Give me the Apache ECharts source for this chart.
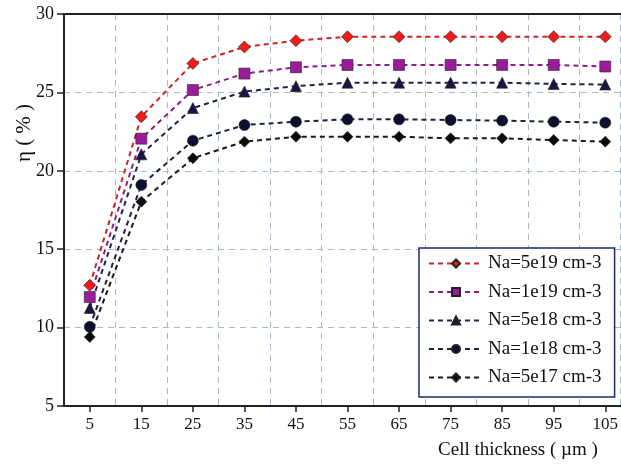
<!DOCTYPE html>
<html>
<head>
<meta charset="utf-8">
<script src="https://cdn.jsdelivr.net/npm/echarts@6/dist/echarts.min.js"></script>
<style>
  html, body { margin: 0; padding: 0; background: #fff; }
  #main { width: 621px; height: 465px; }
</style>
</head>
<body>
<div id="main"></div>
<script>
  var thickness = [5, 15, 25, 35, 45, 55, 65, 75, 85, 95, 105];
  var na5e19 = [12.7, 23.45, 26.85, 27.9, 28.3, 28.55, 28.55, 28.55, 28.55, 28.55, 28.55];
  var na1e19 = [11.95, 22.05, 25.15, 26.2, 26.6, 26.75, 26.75, 26.75, 26.75, 26.75, 26.65];
  var na5e18 = [11.25, 21.05, 24.0, 25.05, 25.4, 25.62, 25.62, 25.62, 25.62, 25.54, 25.5];
  var na1e18 = [10.05, 19.1, 21.92, 22.92, 23.13, 23.28, 23.28, 23.24, 23.2, 23.13, 23.07];
  var na5e17 = [9.4, 18.03, 20.8, 21.86, 22.17, 22.17, 22.17, 22.07, 22.07, 21.96, 21.86];
  var yTicks = [5, 10, 15, 20, 25, 30];

  function pairs(vals) {
    return thickness.map(function (x, i) { return [x, vals[i]]; });
  }

  var serif = 'Liberation Serif';

  function line(name, vals, color, lineColor, symbol, size) {
    return {
      name: name,
      type: 'line',
      xAxisIndex: 1,
      data: pairs(vals),
      symbol: symbol,
      symbolSize: size,
      itemStyle: { color: color, borderColor: '#222', borderWidth: 0.6 },
      lineStyle: { color: lineColor, width: 2, type: [5, 4] }
    };
  }

  var chart = echarts.init(document.getElementById('main'));

  var option = {
    animation: false,
    grid: { left: 64, top: 14, right: 0, bottom: 59 },
    xAxis: [
      {
        type: 'value', min: 0, max: 108, interval: 10, position: 'bottom',
        axisLine: { show: false },
        axisTick: { show: false },
        axisLabel: { show: false },
        splitLine: { show: true, lineStyle: { color: '#a9b9c9', type: [6, 5], width: 1 } }
      },
      {
        type: 'value', min: 0, max: 108, position: 'bottom',
        axisLine: { show: true, onZero: false, lineStyle: { color: '#222', width: 2 } },
        axisTick: { show: true, customValues: thickness, length: 6, lineStyle: { color: '#222', width: 1.5 } },
        axisLabel: { customValues: thickness, fontFamily: serif, fontSize: 17, color: '#111', margin: 10 },
        splitLine: { show: false }
      },
      {
        type: 'value', min: 0, max: 108, position: 'top',
        axisLine: { show: true, onZero: false, lineStyle: { color: '#222', width: 2 } },
        axisTick: { show: false },
        axisLabel: { show: false },
        splitLine: { show: false }
      }
    ],
    yAxis: {
      type: 'value', min: 5, max: 30, interval: 5,
      axisLine: { show: true, lineStyle: { color: '#222', width: 2 } },
      axisTick: { show: true, length: 7, lineStyle: { color: '#222', width: 1.5 } },
      axisLabel: {
        fontFamily: serif, fontSize: 18, color: '#111', margin: 10,
        formatter: function (v) { return yTicks.indexOf(v) >= 0 ? String(v) : ''; }
      },
      splitLine: { show: true, lineStyle: { color: '#a9b9c9', type: [6, 5], width: 1 } }
    },
    legend: {
      orient: 'vertical',
      left: 419,
      top: 248,
      itemWidth: 54,
      itemHeight: 10,
      itemGap: 9.5,
      padding: [6, 13, 10, 9],
      backgroundColor: '#fff',
      borderColor: '#1f2a6b',
      borderWidth: 1.5,
      textStyle: { fontFamily: serif, fontSize: 19, color: '#111' },
      data: ['Na=5e19 cm-3', 'Na=1e19 cm-3', 'Na=5e18 cm-3', 'Na=1e18 cm-3', 'Na=5e17 cm-3']
    },
    graphic: [
      {
        type: 'text', x: 24, y: 133, rotation: Math.PI / 2,
        style: { text: 'η ( % )', font: '21px "Liberation Serif"', fill: '#111', align: 'center', verticalAlign: 'middle' }
      },
      {
        type: 'text', x: 518, y: 450,
        style: { text: 'Cell thickness ( µm )', font: '19px "Liberation Serif"', fill: '#111', align: 'center', verticalAlign: 'middle' }
      }
    ],
    series: [
      line('Na=5e19 cm-3', na5e19, '#ee1c1c', '#c8262a', 'diamond', 12),
      line('Na=1e19 cm-3', na1e19, '#9b1c9b', '#8a1f8c', 'rect', 11),
      line('Na=5e18 cm-3', na5e18, '#1a1440', '#1f2447', 'triangle', 11),
      line('Na=1e18 cm-3', na1e18, '#0e0e2e', '#1c2340', 'circle', 11),
      line('Na=5e17 cm-3', na5e17, '#0a0a0a', '#1a1a1a', 'diamond', 11)
    ]
  };

  chart.setOption(option);
</script>
</body>
</html>
